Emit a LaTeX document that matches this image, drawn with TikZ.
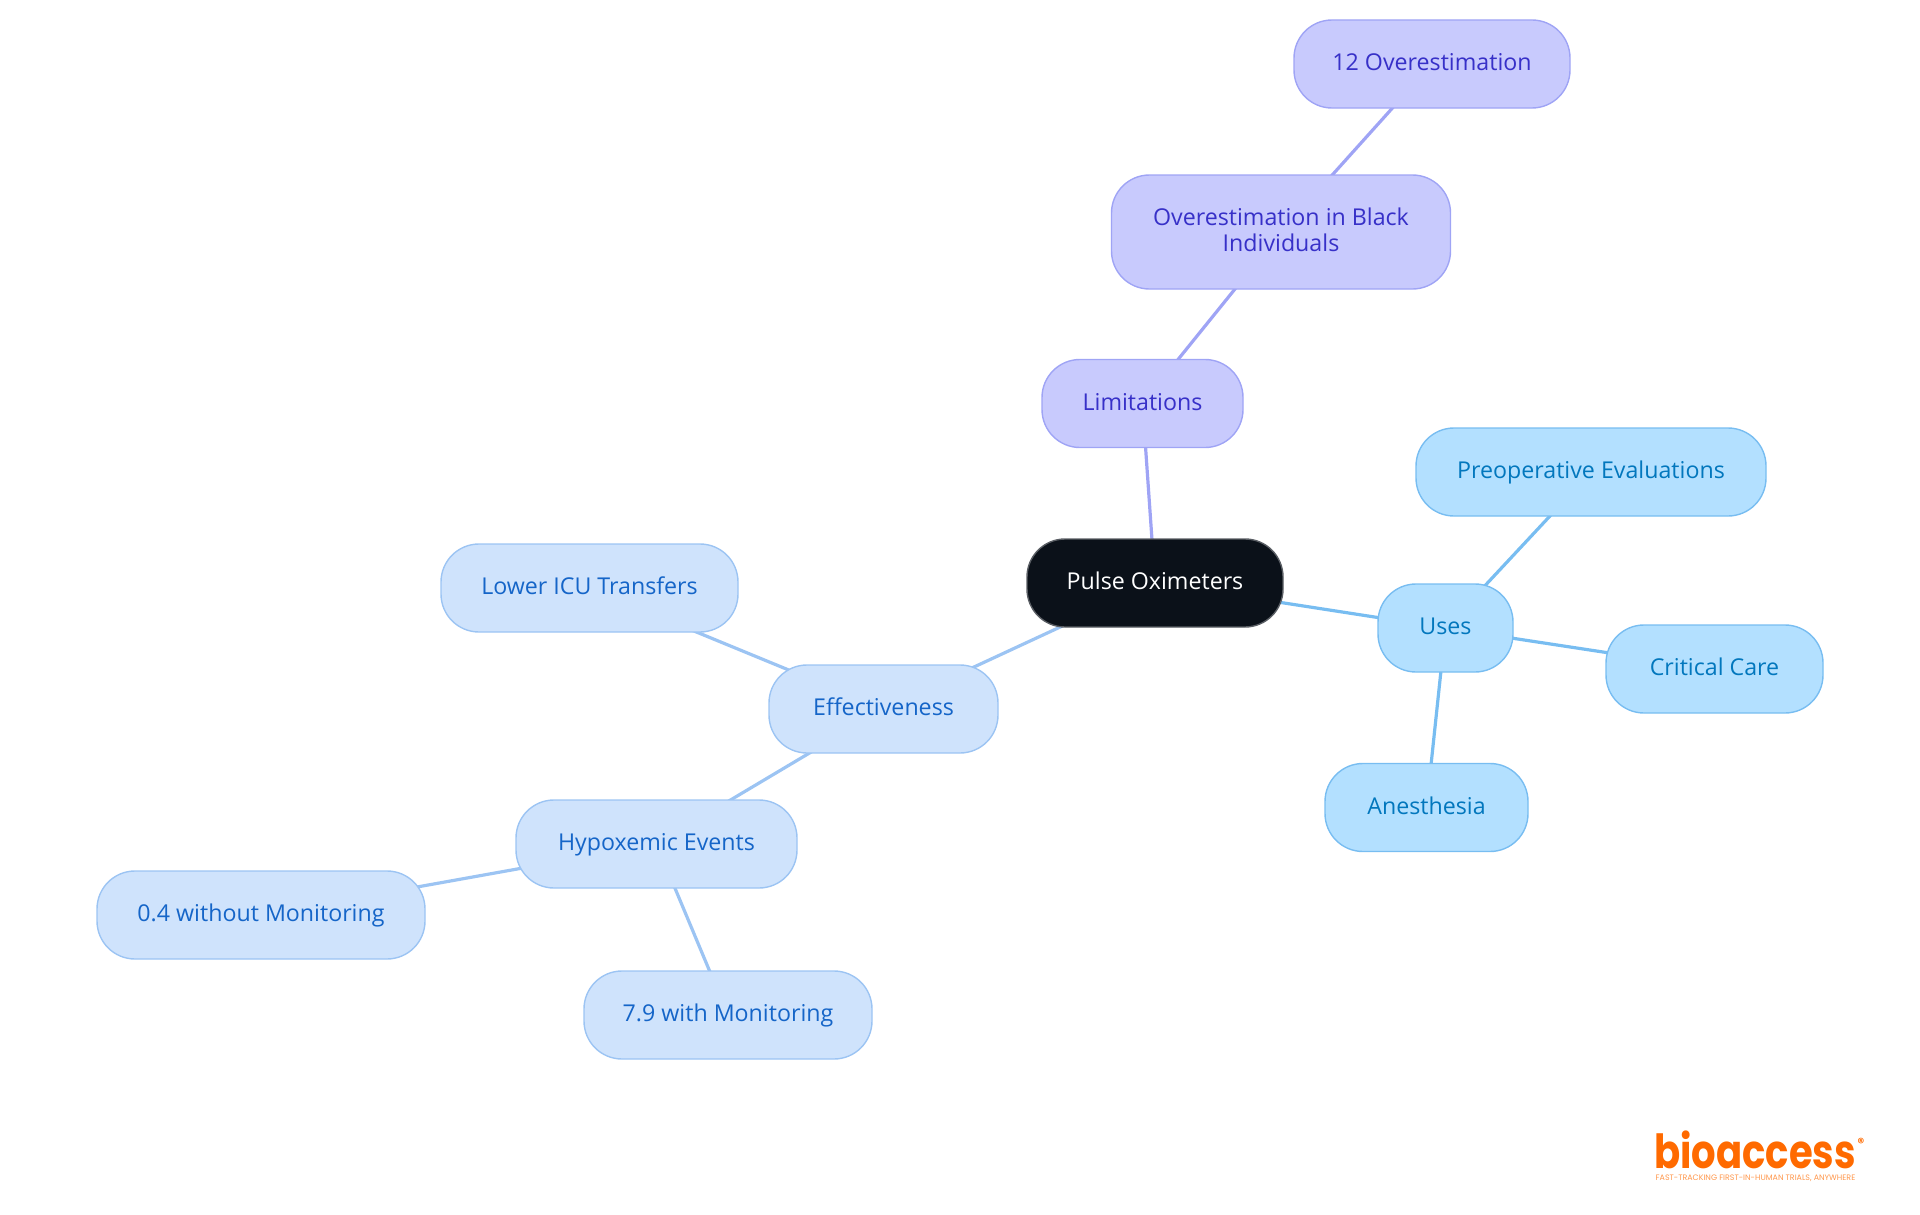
\documentclass[tikz,border=0pt]{standalone}
\usepackage{fontspec}
\setmainfont{Open Sans}
\newfontfamily\logofont{Poppins}
\usetikzlibrary{backgrounds}
\definecolor{RootClr}{HTML}{0B1119}
\definecolor{RootEdge}{HTML}{5A5E64}
\definecolor{EffFill}{HTML}{CFE3FC}
\definecolor{EffLine}{HTML}{9CC4F3}
\definecolor{EffText}{HTML}{1565C8}
\definecolor{UseFill}{HTML}{B3E0FF}
\definecolor{UseLine}{HTML}{78BDF1}
\definecolor{UseText}{HTML}{0277BD}
\definecolor{LimFill}{HTML}{C8CAFD}
\definecolor{LimLine}{HTML}{9FA4F5}
\definecolor{LimText}{HTML}{3730C8}
\definecolor{LogoClr}{HTML}{FF6A00}
\tikzset{
  pill/.style={rectangle,rounded corners=38pt,line width=1.4pt,align=center,
    inner sep=0pt,minimum height=88pt,text height=19pt,text depth=6pt,
    font=\fontsize{23.2}{26.5}\selectfont},
  root/.style={pill,fill=RootClr,draw=RootEdge,text=white},
  effbox/.style={pill,fill=EffFill,draw=EffLine,text=EffText},
  usebox/.style={pill,fill=UseFill,draw=UseLine,text=UseText},
  limbox/.style={pill,fill=LimFill,draw=LimLine,text=LimText},
  effwire/.style={line width=3.2pt,color=EffLine},
  usewire/.style={line width=3.2pt,color=UseLine},
  limwire/.style={line width=3.2pt,color=LimLine}
}

\begin{document}
\begin{tikzpicture}[x=1pt,y=-1pt]
\useasboundingbox (0,0) rectangle (1920,1215);

\node[root,minimum width=256pt] (pulse) at (1155,583) {Pulse Oximeters};

\node[limbox,minimum width=339pt,minimum height=114pt,text height=,text depth=5pt] (black) at (1281,232) {Overestimation in Black\\Individuals};
\node[limbox,minimum width=201pt] (limits) at (1142.5,403.5) {Limitations};
\node[limbox,minimum width=276pt] (twelve) at (1432,64) {12 Overestimation};

\node[usebox,minimum width=135pt] (uses) at (1445.5,628) {Uses};
\node[usebox,minimum width=350pt] (preop) at (1591,472) {Preoperative Evaluations};
\node[usebox,minimum width=217pt] (critical) at (1714.5,669) {Critical Care};
\node[usebox,minimum width=203pt] (anesth) at (1426.5,807.5) {Anesthesia};

\node[effbox,minimum width=229pt] (effect) at (883.5,709) {Effectiveness};
\node[effbox,minimum width=297pt] (icu) at (589.5,588) {Lower ICU Transfers};
\node[effbox,minimum width=281pt] (hypox) at (656.5,844) {Hypoxemic Events};
\node[effbox,minimum width=328pt] (without) at (261,915) {0.4 without Monitoring};
\node[effbox,minimum width=288pt] (with) at (728,1015) {7.9 with Monitoring};

\begin{scope}[on background layer]
\draw[limwire] (pulse.center) -- (limits.center);
\draw[limwire] (limits.center) -- (black.center);
\draw[limwire] (black.center) -- (twelve.center);
\draw[usewire] (pulse.center) -- (uses.center);
\draw[usewire] (uses.center) -- (preop.center);
\draw[usewire] (uses.center) -- (critical.center);
\draw[usewire] (uses.center) -- (anesth.center);
\draw[effwire] (pulse.center) -- (effect.center);
\draw[effwire] (effect.center) -- (icu.center);
\draw[effwire] (effect.center) -- (hypox.center);
\draw[effwire] (hypox.center) -- (without.center);
\draw[effwire] (hypox.center) -- (with.center);
\end{scope}

% logo
\node[text=LogoClr,inner sep=0pt,anchor=base,xscale=.82,font=\logofont\bfseries\fontsize{47}{47}\selectfont] (logo) at (1755,1168) {bioaccess};
\node[text=LogoClr,inner sep=0pt,font=\logofont\bfseries\fontsize{13}{13}\selectfont] (regmark) at (1861,1143) {®};
\node[text=LogoClr!70,inner sep=0pt,font=\logofont\fontsize{7.9}{8}\selectfont] (tagline) at (1755.5,1178) {FAST-TRACKING FIRST-IN-HUMAN TRIALS, ANYWHERE};
\end{tikzpicture}
\end{document}
